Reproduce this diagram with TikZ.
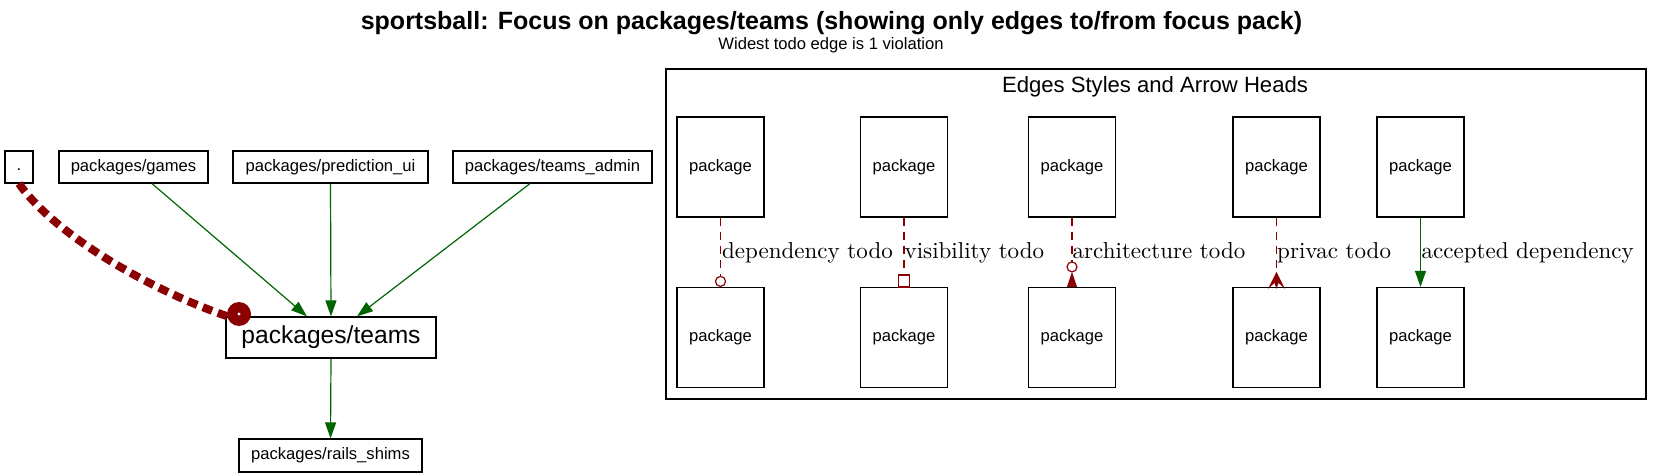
\documentclass[tikz,border=0pt]{standalone}
\usepackage{fontspec}
\newfontfamily\arial{Liberation Sans}
\newfontfamily\lmten{lmroman10-regular.otf}
\usetikzlibrary{arrows.meta}
\definecolor{dred}{HTML}{8B0000}
\definecolor{dgreen}{HTML}{006400}
\begin{document}
\begin{tikzpicture}[x=1pt,y=-1pt,
 box/.style={draw=black,line width=1.2pt,font=\arial\fontsize{16.6}{18}\selectfont,inner sep=0pt},
 pkg/.style={box,minimum width=87pt,minimum height=100pt},
 ok/.style={draw=dgreen,line width=1.2pt,-{Triangle[length=16pt,width=11pt]}},
 todo/.style={draw=dred,line width=1.2pt,dash pattern=on 8pt off 6pt},
 headline/.style={draw=dred,line width=1.2pt},
 lbl/.style={font=\lmten\fontsize{23}{25}\selectfont,inner sep=0pt,anchor=base west}]
\useasboundingbox (0,0) rectangle (1663,476);
% titles
\node[font=\arial\bfseries\fontsize{25}{28}\selectfont,anchor=base,inner sep=0pt] (title) at (831.5,30) {sportsball: Focus on packages/teams (showing only edges to/from focus pack)};
\node[font=\arial\fontsize{16.6}{18}\selectfont,anchor=base,inner sep=0pt] (subtitle) at (831,49.5) {Widest todo edge is 1 violation};
% main graph
\node[box,minimum width=28pt,minimum height=32pt] (dot) at (19,167) {\vphantom{Ag}.};
\node[box,minimum width=149pt,minimum height=32pt] (games) at (133.5,167) {packages/games};
\node[box,minimum width=195pt,minimum height=32pt] (pred) at (330.5,167) {packages/prediction\_ui};
\node[box,minimum width=199pt,minimum height=32pt] (admin) at (552.5,167) {packages/teams\_admin};
\node[box,minimum width=210pt,minimum height=41pt,font=\arial\fontsize{24.6}{27}\selectfont] (teams) at (331,337.5) {packages/teams};
\node[box,minimum width=183pt,minimum height=33pt] (rails) at (330.5,455.5) {packages/rails\_shims};
\draw[ok] ([xshift=18.5pt]games.south) -- ([xshift=-24pt]teams.north);
\draw[ok] (pred.south) -- (teams.north);
\draw[ok] ([xshift=-22.5pt]admin.south) -- ([xshift=26pt]teams.north);
\draw[ok] (teams.south) -- (rails.north);
\node[circle,fill=dred,minimum size=24pt,inner sep=0pt] (odot) at (239,314) {};
\draw[dred,line width=8pt,dash pattern=on 10pt off 6pt] (dot.south) .. controls (55,235) and (150,290) .. (odot.190);
\fill[white] (odot.center) circle (1.6pt);
% legend
\node[draw=black,line width=1.2pt,minimum width=980pt,minimum height=330pt,inner sep=0pt] (legend) at (1156,234) {};
\node[font=\arial\fontsize{22.1}{25}\selectfont,anchor=base,inner sep=0pt] (ltitle) at (1155,93) {Edges Styles and Arrow Heads};
\node[pkg] (t1) at (720.5,167) {package};
\node[pkg] (b1) at (720.5,337.5) {package};
\node[pkg] (t2) at (904,167) {package};
\node[pkg] (b2) at (904,337.5) {package};
\node[pkg] (t3) at (1072,167) {package};
\node[pkg] (b3) at (1072,337.5) {package};
\node[pkg] (t4) at (1276.5,167) {package};
\node[pkg] (b4) at (1276.5,337.5) {package};
\node[pkg] (t5) at (1420.5,167) {package};
\node[pkg] (b5) at (1420.5,337.5) {package};
% col1: odot
\draw[todo] (t1.south) -- ([yshift=10.5pt]b1.north);
\draw[headline] ([yshift=5.5pt]b1.north) circle (5pt);
% col2: obox
\draw[todo] (t2.south) -- ([yshift=12pt]b2.north);
\draw[headline] ([xshift=-5.5pt]b2.north) rectangle ([xshift=5.5pt,yshift=12pt]b2.north);
% col3: inv + odot
\draw[todo] (t3.south) -- ([yshift=25pt]b3.north);
\fill[dred] ([xshift=-5pt]b3.north) -- ([yshift=15pt]b3.north) -- ([xshift=5pt]b3.north) -- cycle;
\draw[headline] ([yshift=20pt]b3.north) circle (5pt);
% col4: crow
\draw[todo] (t4.south) -- ([yshift=15pt]b4.north);
\fill[dred] ([yshift=15pt]b4.north) -- ([xshift=-8.5pt,yshift=-2pt]b4.north) -- ([xshift=-2pt,yshift=4pt]b4.north) -- ([yshift=-2pt]b4.north) -- ([xshift=2pt,yshift=4pt]b4.north) -- ([xshift=8.5pt,yshift=-2pt]b4.north) -- cycle;
% col5: accepted
\draw[ok] (t5.south) -- (b5.north);
% labels
\node[lbl] (l1) at (722,258) {dependency todo};
\node[lbl] (l2) at (904.5,258) {visibility todo};
\node[lbl] (l3) at (1072.5,258) {architecture todo};
\node[lbl] (l4) at (1277,258) {privac todo};
\node[lbl] (l5) at (1421.5,258) {accepted dependency};
\end{tikzpicture}
\end{document}
